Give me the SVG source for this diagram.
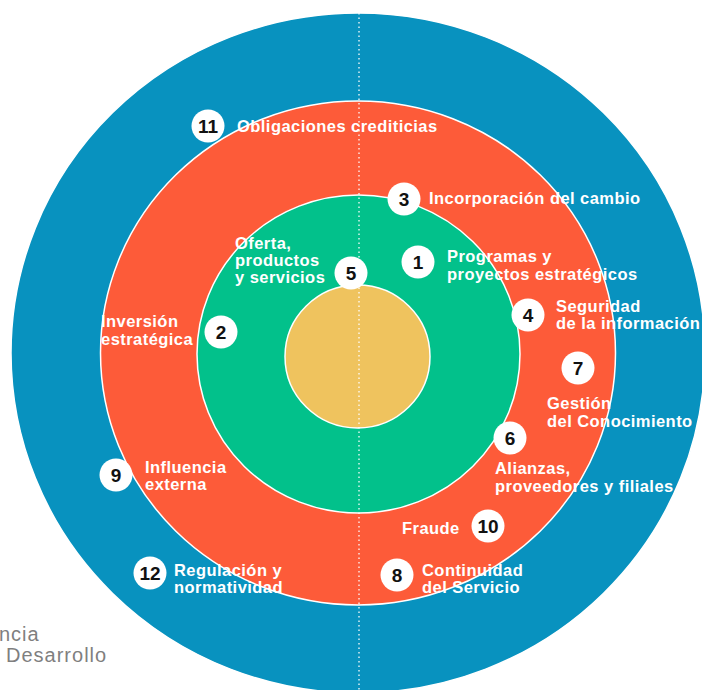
<svg xmlns="http://www.w3.org/2000/svg" width="702" height="690" viewBox="0 0 702 690">
<style>
.ring{stroke:#ffffff;stroke-width:1.5}
.lbl{font-family:"Liberation Sans","DejaVu Sans",sans-serif;font-weight:bold;font-size:16.5px;letter-spacing:0.45px;fill:#ffffff}
.num{font-family:"Liberation Sans","DejaVu Sans",sans-serif;font-weight:bold;font-size:19px;fill:#111111;text-anchor:middle}
.badge{fill:#ffffff}
.logo{font-family:"Liberation Sans","DejaVu Sans",sans-serif;font-size:20px;letter-spacing:1px;fill:#7f7f7f}
</style>
<rect width="702" height="690" fill="#ffffff"/>
<g id="rings">
<ellipse id="ring-blue" class="ring" cx="358" cy="353" rx="347" ry="340" fill="#0892bf"/>
<ellipse id="ring-red" class="ring" cx="358" cy="353" rx="257.5" ry="252" fill="#fd5b39"/>
<ellipse id="ring-green" class="ring" cx="358.5" cy="354" rx="161.5" ry="159" fill="#02c18b"/>
<ellipse id="ring-yellow" class="ring" cx="357.5" cy="356.5" rx="72.5" ry="71.5" fill="#efc35e"/>
</g>
<g id="connectors">
<line x1="359" y1="13" x2="359" y2="690" stroke="#ffffff" stroke-width="1.5" stroke-dasharray="1.5 3" opacity="0.85"/>
</g>
<g id="n11"><circle class="badge" cx="208" cy="126" r="16.5"/><text class="num" x="208" y="133">11</text><text class="lbl" x="237" y="132">Obligaciones crediticias</text></g>
<g id="n3"><circle class="badge" cx="404" cy="199" r="16.5"/><text class="num" x="404" y="206">3</text><text class="lbl" x="429" y="204">Incorporación del cambio</text></g>
<g id="n5"><circle class="badge" cx="351" cy="273" r="16.5"/><text class="num" x="351" y="280">5</text><text class="lbl" x="235" y="249">Oferta,</text><text class="lbl" x="235" y="266">productos</text><text class="lbl" x="235" y="283">y servicios</text></g>
<g id="n1"><circle class="badge" cx="418" cy="262" r="16.5"/><text class="num" x="418" y="269">1</text><text class="lbl" x="447" y="262">Programas y</text><text class="lbl" x="447" y="280">proyectos estratégicos</text></g>
<g id="n4"><circle class="badge" cx="528" cy="315" r="16.5"/><text class="num" x="528" y="322">4</text><text class="lbl" x="556" y="312">Seguridad</text><text class="lbl" x="556" y="329">de la información</text></g>
<g id="n2"><circle class="badge" cx="221" cy="332" r="16.5"/><text class="num" x="221" y="339">2</text><text class="lbl" x="101" y="327">Inversión</text><text class="lbl" x="101" y="345">estratégica</text></g>
<g id="n7"><circle class="badge" cx="578" cy="368" r="16.5"/><text class="num" x="578" y="375">7</text><text class="lbl" x="547" y="409">Gestión</text><text class="lbl" x="547" y="427">del Conocimiento</text></g>
<g id="n6"><circle class="badge" cx="510" cy="438" r="16.5"/><text class="num" x="510" y="445">6</text><text class="lbl" x="495" y="474">Alianzas,</text><text class="lbl" x="495" y="492">proveedores y filiales</text></g>
<g id="n9"><circle class="badge" cx="116" cy="475" r="16.5"/><text class="num" x="116" y="482">9</text><text class="lbl" x="145" y="473">Influencia</text><text class="lbl" x="145" y="490">externa</text></g>
<g id="n10"><circle class="badge" cx="488" cy="526" r="16.5"/><text class="num" x="488" y="533">10</text><text class="lbl" x="402" y="534">Fraude</text></g>
<g id="n12"><circle class="badge" cx="150" cy="573" r="16.5"/><text class="num" x="150" y="580">12</text><text class="lbl" x="174" y="576">Regulación y</text><text class="lbl" x="174" y="593">normatividad</text></g>
<g id="n8"><circle class="badge" cx="397" cy="575" r="16.5"/><text class="num" x="397" y="582">8</text><text class="lbl" x="422" y="576">Continuidad</text><text class="lbl" x="422" y="593">del Servicio</text></g>
<g id="logo"><text class="logo" x="-1" y="641">ncia</text><text class="logo" x="6" y="662">Desarrollo</text></g>
</svg>
